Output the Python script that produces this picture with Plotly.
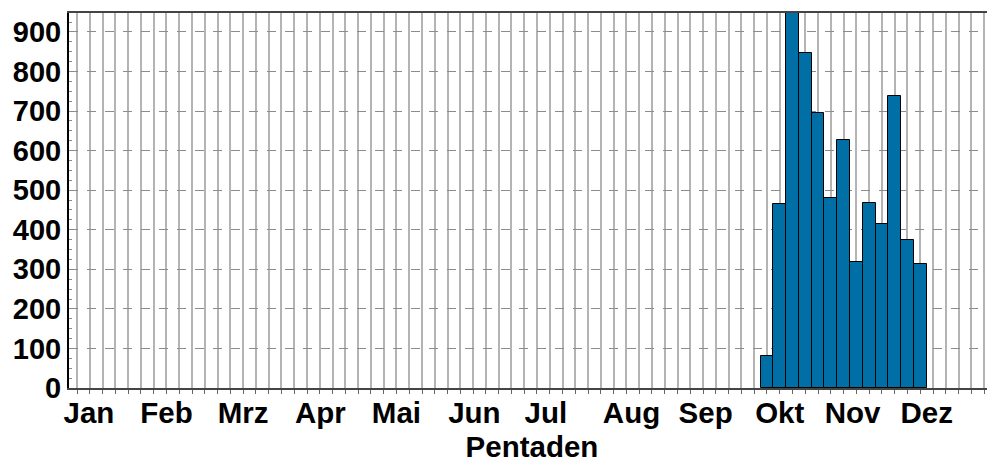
import plotly.graph_objects as go

# Pentad positions (index of pentad grid line) and counts
pentads = [54, 55, 56, 57, 58, 59, 60, 61, 62, 63, 64, 65, 66]
counts = [82, 465, 948, 848, 695, 480, 628, 319, 467, 415, 739, 374, 313]

month_labels = ["Jan", "Feb", "Mrz", "Apr", "Mai", "Jun", "Jul", "Aug", "Sep", "Okt", "Nov", "Dez"]
month_pos = [0.93, 7.0, 13.0, 19.05, 25.0, 31.1, 36.7, 43.4, 49.2, 55.0, 60.7, 66.5]

x_range = [-0.63, 71.85]
y_max = 948

fig = go.Figure()
fig.add_trace(go.Bar(
    x=pentads, y=counts, width=1.0,
    marker=dict(color="#006FA6", line=dict(color="#000000", width=1)),
    xaxis="x", yaxis="y", showlegend=False,
))
# invisible trace to activate month-label axis
fig.add_trace(go.Scatter(x=[x_range[0]], y=[0], xaxis="x2", yaxis="y",
                         mode="markers", marker=dict(opacity=0), showlegend=False,
                         hoverinfo="skip"))

# page body has an 8px default margin, so margins are compensated
fig.update_layout(
    width=995, height=461,
    margin=dict(l=61, r=8, t=5, b=81, autoexpand=False),
    plot_bgcolor="white", paper_bgcolor="white",
    bargap=0,
    font=dict(family="Liberation Sans, Arial, sans-serif", color="black"),
    xaxis=dict(
        range=x_range, automargin=False,
        tickmode="linear", tick0=0, dtick=1,
        showticklabels=False,
        ticks="outside", ticklen=4, tickwidth=1, tickcolor="#666",
        showgrid=True, gridcolor="#b4b4b4", gridwidth=1.5,
        showline=True, linecolor="#444", linewidth=2, mirror=True,
        zeroline=False,
    ),
    xaxis2=dict(
        range=x_range, overlaying="x", side="bottom", automargin=False,
        tickmode="array", tickvals=month_pos,
        ticktext=["<b>%s</b>" % m for m in month_labels],
        tickfont=dict(size=29.5),
        ticks="", showgrid=False, showline=False, zeroline=False,
        ticklabelstandoff=4,
        title=dict(text="<b>Pentaden</b>", font=dict(size=29.5), standoff=8),
    ),
    yaxis=dict(
        range=[0, y_max], automargin=False,
        tickmode="linear", tick0=0, dtick=100,
        tickfont=dict(size=29),
        ticks="inside", ticklen=4, tickcolor="#888",
        showgrid=True, gridcolor="#8c8c8c", gridwidth=1, griddash="dash",
        showline=True, linecolor="black", linewidth=2,
        zeroline=False,
        minor=dict(dtick=25, ticks="inside", ticklen=3, tickcolor="#888", showgrid=False),
    ),
)

fig.update_yaxes(tickprefix="<b>", ticksuffix="</b>")

fig.write_html("out.html")
